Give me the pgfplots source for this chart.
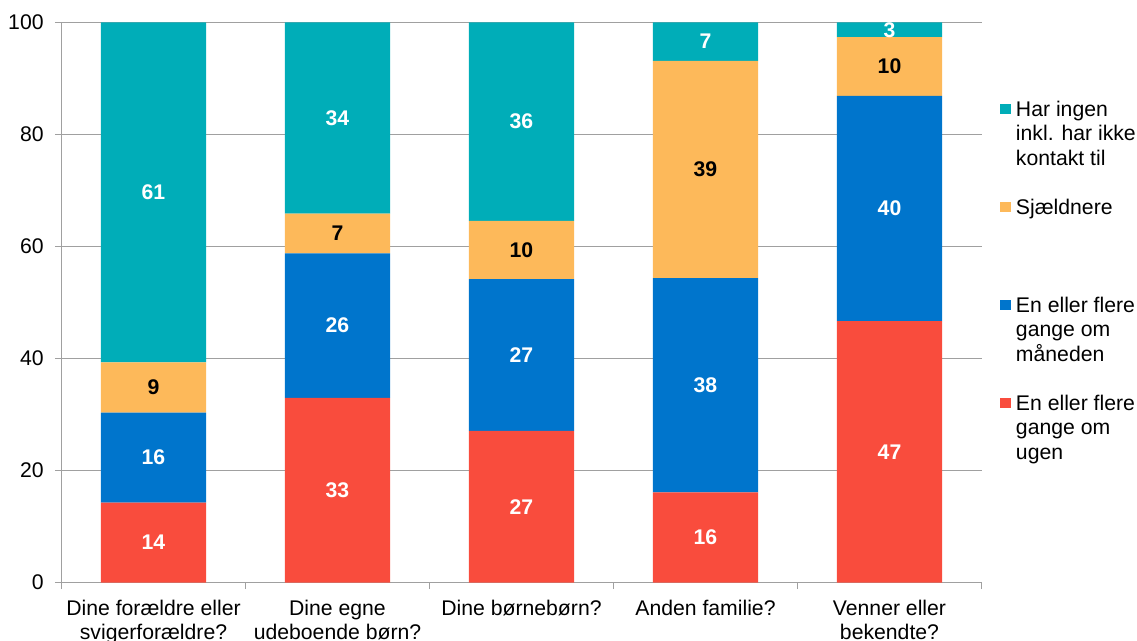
\documentclass[border=0pt]{standalone}
\usepackage{fontspec}
\setmainfont{Liberation Sans}
\usepackage{pgfplots}
\pgfplotsset{compat=1.18}
\definecolor{cteal}{RGB}{0,173,184}
\definecolor{cyellow}{RGB}{253,185,90}
\definecolor{cblue}{RGB}{0,117,204}
\definecolor{cred}{RGB}{249,76,61}
\definecolor{cgrid}{RGB}{160,160,160}
\pgfplotsset{sqleg/.style={legend image code/.code={\fill[##1,draw=none] (0pt,1pt) rectangle (5.3pt,6pt);}}}
\begin{document}
\fontsize{10.6pt}{12.25pt}\selectfont
\begin{tikzpicture}
\useasboundingbox (-30.75pt,-29.15pt) rectangle (537.75pt,291.35pt);
\begin{axis}[
  at={(0pt,0pt)}, anchor=south west,
  scale only axis, width=460pt, height=280.1pt,
  ybar stacked, bar width=52.65pt,
  xmin=-0.5, xmax=4.5, ymin=0, ymax=100,
  ytick={0,20,...,100},
  xtick={-0.5,0.5,...,4.5}, xticklabels={},
  extra x ticks={0,1,2,3,4},
  extra x tick labels={Dine forældre eller\\svigerforældre?, Dine egne\\udeboende børn?, Dine børnebørn?, Anden familie?, Venner eller\\bekendte?},
  extra x tick style={major tick length=0pt, grid=none, xticklabel style={align=center, anchor=north, inner sep=0pt, yshift=-8.5pt}},
  tick align=outside, major tick length=3.25pt,
  tick style={cgrid, line width=0.8pt},
  ymajorgrids, grid style={cgrid, line width=0.8pt},
  axis x line*=bottom, axis y line*=left,
  axis line style={cgrid, line width=0.8pt, -},
  yticklabel style={anchor=east, inner sep=0pt, xshift=-5.5pt},
  /pgf/number format/assume math mode=true,
  legend style={draw=none, fill=none, at={(axis description cs:1.0201,0.8595)}, anchor=north west,
    inner sep=0pt, outer sep=0pt, row sep=0pt, column sep=2.7pt,
    cells={anchor=base west},
    nodes={inner sep=0pt, text height=7.6pt, text depth=41.4pt}},
  reverse legend,
]
\addplot[fill=cred, draw=none, sqleg] coordinates {(0,14.3) (1,33.0) (2,27.1) (3,16.1) (4,46.7)};
\addlegendentry{\parbox[t]{3cm}{En eller flere\\gange om\\ugen}}
\addplot[fill=cblue, draw=none, sqleg] coordinates {(0,16.05) (1,25.8) (2,27.1) (3,38.25) (4,40.2)};
\addlegendentry{\parbox[t]{3cm}{En eller flere\\gange om\\måneden}}
\addplot[fill=cyellow, draw=none, sqleg] coordinates {(0,9.0) (1,7.1) (2,10.4) (3,38.8) (4,10.5)};
\addlegendentry{\parbox[t]{3cm}{Sjældnere}}
\addplot[fill=cteal, draw=none, sqleg] coordinates {(0,60.65) (1,34.1) (2,35.4) (3,6.85) (4,2.6)};
\addlegendentry{\parbox[t]{3cm}{Har ingen\\inkl. har ikke\\kontakt til}}
\end{axis}
\begin{axis}[
  at={(0pt,0pt)}, anchor=south west,
  scale only axis, width=460pt, height=280.1pt,
  xmin=-0.5, xmax=4.5, ymin=0, ymax=100,
  hide axis, clip=false,
]
\addplot[only marks, mark=none, nodes near coords, point meta=explicit symbolic,
  nodes near coords style={anchor=center, font=\bfseries, text=white, inner sep=0pt}]
  coordinates {(0,7.15) [14] (1,16.5) [33] (2,13.55) [27] (3,8.05) [16] (4,23.35) [47]
               (0,22.33) [16] (1,45.9) [26] (2,40.65) [27] (3,35.23) [38] (4,66.8) [40]
               (0,69.68) [61] (1,82.95) [34] (2,82.3) [36] (3,96.58) [7] (4,98.7) [3]};
\addplot[only marks, mark=none, nodes near coords, point meta=explicit symbolic,
  nodes near coords style={anchor=center, font=\bfseries, text=black, inner sep=0pt}]
  coordinates {(0,34.85) [9] (1,62.35) [7] (2,59.4) [10] (3,73.75) [39] (4,92.15) [10]};
\end{axis}
\end{tikzpicture}
\end{document}
